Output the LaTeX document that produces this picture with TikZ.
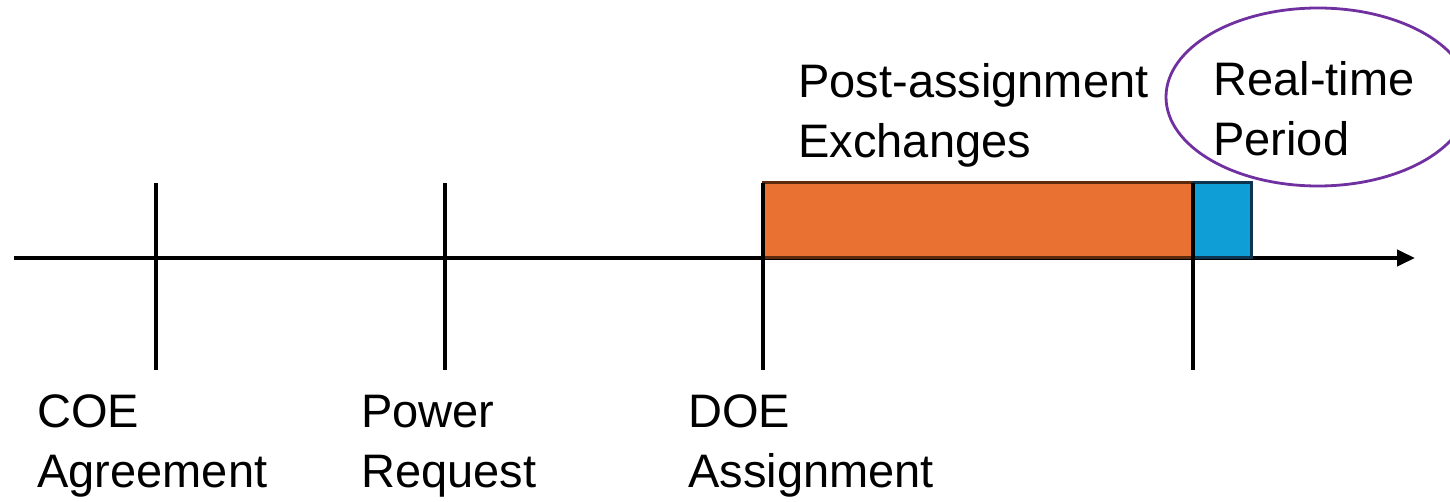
\documentclass[tikz,border=0pt]{standalone}
\usepackage{fontspec}
\setmainfont{Liberation Sans}
\usetikzlibrary{arrows.meta}
\definecolor{exchfill}{HTML}{E97132}
\definecolor{exchline}{HTML}{5C2A0C}
\definecolor{rtfill}{HTML}{0F9ED5}
\definecolor{rtline}{HTML}{0E3550}
\definecolor{ringcol}{HTML}{7030A0}
\begin{document}
\begin{tikzpicture}[x=0.5pt,y=-0.5pt,
  axisline/.style={line width=2.1pt,black},
  tickline/.style={line width=2.1pt,black},
  period/.style={line width=1.5pt},
  label/.style={anchor=base west,align=left,inner sep=0pt,
    font=\fontsize{23.5}{30}\selectfont},
  ring/.style={draw=ringcol,line width=1.4pt}]
  \useasboundingbox (0,0) rectangle (1450,502);
  \clip (0,0) rectangle (1450,502);

  % tick positions on the time axis
  \coordinate (coeT) at (156,183);  \coordinate (coeB) at (156,370);
  \coordinate (powT) at (445,183);  \coordinate (powB) at (445,370);
  \coordinate (doeT) at (763,183);  \coordinate (doeB) at (763,370);
  \coordinate (rtT)  at (1193,183); \coordinate (rtB)  at (1193,370);
  \coordinate (axS)  at (14,258);   \coordinate (axE)  at (1415,258);

  % time axis
  \draw[axisline,-{Triangle[length=9pt,width=8pt]}] (axS) -- (axE);

  % periods
  \draw[period,draw=exchline,fill=exchfill] (763,183) rectangle (1193,258);
  \draw[period,draw=rtline,fill=rtfill] (1193,183) rectangle (1251,258);

  % event ticks
  \draw[tickline] (coeT) -- (coeB);
  \draw[tickline] (powT) -- (powB);
  \draw[tickline] (doeT) -- (doeB);
  \draw[tickline] (rtT) -- (rtB);

  % labels (anchored at the baseline of the last line)
  \node[label] (coe) at (37,487) {COE\\Agreement};
  \node[label] (pow) at (361,487) {Power\\Request};
  \node[label] (doe) at (688,487) {DOE\\Assignment};
  \node[label] (exch) at (798,158) {Post-assignment\\Exchanges};
  \node[label] (rtl) at (1213,156) {Real-time\\Period};

  % highlight ring
  \draw[ring] (1318,97) ellipse [x radius=152, y radius=89];
\end{tikzpicture}
\end{document}
